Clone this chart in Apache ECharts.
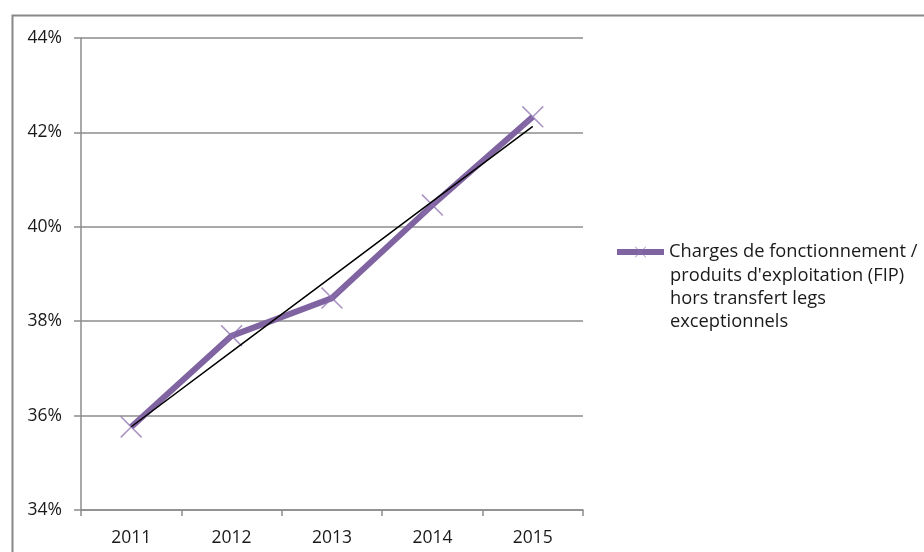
<!DOCTYPE html>
<html><head><meta charset="utf-8">
<script src="https://cdn.jsdelivr.net/npm/echarts@6/dist/echarts.min.js"></script>
<style>html,body{margin:0;padding:0;background:#fff}#c{width:924px;height:552px}</style>
</head><body><div id="c"></div>
<script>
const categories = ['2011','2012','2013','2014','2015'];
const ratioValues = [35.76, 37.69, 38.49, 40.46, 42.33];
const legendLines = ['Charges de fonctionnement /', 'produits d\'exploitation (FIP)', 'hors transfert legs', 'exceptionnels'];
const seriesName = legendLines.join(' ');

// linear trend line (least squares) derived from the data
const n = ratioValues.length;
const mx = (n - 1) / 2;
const my = ratioValues.reduce((a, b) => a + b, 0) / n;
let num = 0, den = 0;
ratioValues.forEach((v, i) => { num += (i - mx) * (v - my); den += (i - mx) * (i - mx); });
const slope = num / den, icpt = my - slope * mx;
const trendValues = ratioValues.map((v, i) => icpt + slope * i);

const purple = '#8064a2';
const xPath = 'path://M0,1L1,0L10,9L19,0L20,1L11,10L20,19L19,20L10,11L1,20L0,19L9,10Z';
const font = "'Open Sans', 'Liberation Sans', sans-serif";
const fs = 17.5;
const lfs = 18.3;

const chart = echarts.init(document.getElementById('c'), null, {renderer: 'canvas'});
chart.setOption({
  animation: false,
  backgroundColor: '#fff',
  graphic: [{
    type: 'rect', left: 10, top: 13, z: -1,
    shape: {width: 1000, height: 1000},
    style: {fill: 'none', stroke: '#888', lineWidth: 2}
  }, {
    type: 'text', left: 670, top: 264,
    style: {text: legendLines.slice(1).join('\n'), fill: '#1a1a1a', font: lfs + 'px ' + font, lineHeight: 23}
  }],
  grid: {left: 81, right: 341, top: 38, bottom: 42},
  xAxis: {
    type: 'category', data: categories, boundaryGap: true,
    axisLine: {lineStyle: {color: '#8c8c8c', width: 1.5}},
    axisTick: {show: true, length: 6, lineStyle: {color: '#8c8c8c', width: 1.5}},
    axisLabel: {color: '#1a1a1a', fontSize: fs, fontFamily: font, margin: 19}
  },
  yAxis: {
    type: 'value', min: 34, max: 44, interval: 2,
    axisLine: {show: true, lineStyle: {color: '#8c8c8c', width: 1.5}},
    axisTick: {show: true, length: 7, lineStyle: {color: '#8c8c8c', width: 1.5}},
    axisLabel: {color: '#1a1a1a', fontSize: fs, fontFamily: font, margin: 19, formatter: v => v + '%'},
    splitLine: {lineStyle: {color: '#8c8c8c', width: 1.5}}
  },
  legend: {
    data: [seriesName],
    left: 614, top: 243, padding: 0,
    itemWidth: 47, itemHeight: 14,
    selectedMode: false,
    formatter: () => legendLines[0],
    lineStyle: {width: 6},
    textStyle: {color: '#1a1a1a', fontSize: lfs, fontFamily: font}
  },
  series: [{
    name: seriesName,
    type: 'line',
    data: ratioValues,
    symbol: xPath,
    symbolSize: 22,
    lineStyle: {color: purple, width: 6},
    itemStyle: {color: 'rgba(140,112,175,0.75)'},
    z: 2
  }, {
    name: 'trend',
    type: 'line',
    data: trendValues,
    symbol: 'none',
    lineStyle: {color: '#000', width: 1.5},
    z: 3,
    silent: true
  }]
});
</script></body></html>
